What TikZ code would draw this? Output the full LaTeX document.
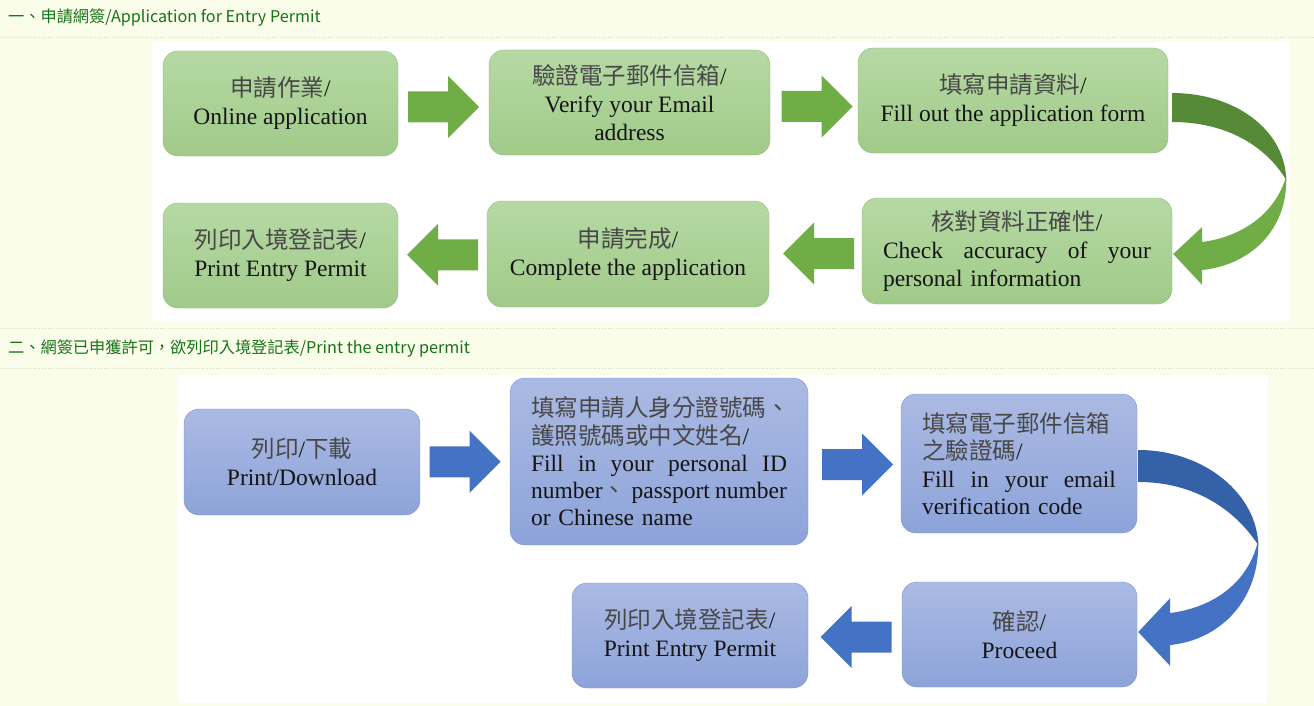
\documentclass[tikz,border=0pt]{standalone}
\usepackage{fontspec}
\setmainfont{Liberation Serif}
\newfontfamily\cjk{Noto Sans CJK TC}
\usepackage{xcolor}
\usepackage{tikz}
\usetikzlibrary{positioning,calc}

\definecolor{pagebg}{HTML}{F9FDEA}
\definecolor{seprule}{HTML}{D3DCC2}
\definecolor{headgreen}{HTML}{177317}
\definecolor{gboxtop}{HTML}{B6D9A4}
\definecolor{gboxbot}{HTML}{A1CA89}
\definecolor{gboxline}{HTML}{8FBE76}
\definecolor{garrowc}{HTML}{70AD47}
\definecolor{garrowd}{HTML}{578A37}
\definecolor{bboxtop}{HTML}{ABBAE3}
\definecolor{bboxbot}{HTML}{8DA3D9}
\definecolor{bboxline}{HTML}{7D95CE}
\definecolor{barrowc}{HTML}{4472C4}
\definecolor{barrowd}{HTML}{3461A8}
\definecolor{zhgray}{HTML}{474747}

\newcommand{\zh}[1]{{\cjk\color{zhgray}#1}}
\newcommand{\boxfont}{\fontsize{23.5}{28}\selectfont}

\begin{document}
\begin{tikzpicture}[x=1pt, y=-1pt,
    greenbox/.style={rectangle, rounded corners=15pt, draw=gboxline, top color=gboxtop, bottom color=gboxbot, text=black!92, font=\boxfont, inner sep=0pt, align=center},
    bluebox/.style={rectangle, rounded corners=15pt, draw=bboxline, top color=bboxtop, bottom color=bboxbot, text=black!92, font=\boxfont, inner sep=0pt, align=center},
    heading/.style={anchor=west, text=headgreen, font=\cjk\fontsize{16.2}{19}\selectfont, inner sep=0pt},
    seprule/.style={draw=seprule, dotted, line width=0.8pt},
    blockarrow/.pic={\fill (-35.5,-15.5) -- (4.5,-15.5) -- (4.5,-31) -- (35.5,0) -- (4.5,31) -- (4.5,15.5) -- (-35.5,15.5) -- cycle;}]

    \useasboundingbox (0,0) rectangle (1314,706);
    \fill[pagebg] (0,0) rectangle (1314,706);

    % Headings
    \node (head1) [heading] at (8,18) {一、申請網簽/Application for Entry Permit};
    \draw [seprule] (0,37) -- (1314,37);
    \fill[white] (152,42) rectangle (1290,322);
    \draw [seprule] (0,328) -- (1314,328);
    \node (head2) [heading] at (8,349) {二、網簽已申獲許可，欲列印入境登記表/Print the entry permit};
    \draw [seprule] (0,368) -- (1314,368);
    \fill[white] (178,375) rectangle (1267,703);

    % Application for entry permit
    \node (online) [greenbox, minimum width=235pt, minimum height=105pt] at (280.5,103.5) {\zh{申請作業}/\\Online application};
    \node (verify) [greenbox, minimum width=281pt, minimum height=105pt] at (629.5,102.5) {\zh{驗證電子郵件信箱}/\\Verify your Email\\address};
    \node (form) [greenbox, minimum width=310pt, minimum height=105pt] at (1013,100.5) {\zh{填寫申請資料}/\\Fill out the application form};
    \node (check) [greenbox, minimum width=310pt, minimum height=106pt, text width=268pt, align=left] at (1017,251)
        {\makebox[268pt][c]{\zh{核對資料正確性}/}\\\makebox[268pt]{Check\hfill accuracy\hfill of\hfill your}\\personal information};
    \node (done) [greenbox, minimum width=282pt, minimum height=106pt] at (628,254) {\zh{申請完成}/\\Complete the application};
    \node (print1) [greenbox, minimum width=235pt, minimum height=105pt] at (280.5,255.5) {\zh{列印入境登記表}/\\Print Entry Permit};

    \pic [fill=garrowc] at ($(online.east)!0.5!(verify.west)+(0,4)$) {blockarrow};
    \pic [fill=garrowc] at ($(verify.east)!0.5!(form.west)+(3,5)$) {blockarrow};
    \pic [fill=garrowc, rotate=180] at ($(done.east)!0.5!(check.west)+(3,1)$) {blockarrow};
    \pic [fill=garrowc, rotate=180] at ($(print1.east)!0.5!(done.west)$) {blockarrow};

    \begin{scope}[shift={(form.east)}]
        \fill[garrowc] (118,75.5) .. controls (120,129.5) and (82,164.5) .. (34,169.5) -- (34,184.5) -- (5,153.5)
            -- (34,126.5) -- (34,141.5) .. controls (72,136.5) and (107,114.5) .. (118,75.5) -- cycle;
        \fill[garrowd] (4,-7.5) .. controls (67,-7.5) and (117,29.5) .. (118,79.5)
            .. controls (97,44.5) and (57,21.5) .. (4,21.5) -- cycle;
    \end{scope}

    % Print the entry permit
    \node (download) [bluebox, minimum width=236pt, minimum height=106pt] at (302,462) {\zh{列印}/\zh{下載}\\Print/Download};
    \node (idno) [bluebox, minimum width=298pt, minimum height=167pt, text width=256pt, align=left, font=\fontsize{23.5}{27.3}\selectfont] at (659,461.5)
        {\zh{填寫申請人身分證號碼、}\\\zh{護照號碼或中文姓名}/\\\makebox[256pt]{Fill\hfill in\hfill your\hfill personal\hfill ID}\\\makebox[256pt]{number\zh{、}\hfill passport\hfill number}\\or Chinese name};
    \node (code) [bluebox, minimum width=236pt, minimum height=139pt, text width=194pt, align=left, font=\fontsize{23.5}{27.5}\selectfont] at (1019,463.5)
        {\zh{填寫電子郵件信箱}\\\zh{之驗證碼}/\\\makebox[194pt]{Fill\hfill in\hfill your\hfill email}\\verification code};
    \node (proceed) [bluebox, minimum width=235pt, minimum height=105pt] at (1019.5,634.5) {\zh{確認}/\\Proceed};
    \node (print2) [bluebox, minimum width=236pt, minimum height=105pt] at (690,635.5) {\zh{列印入境登記表}/\\Print Entry Permit};

    \pic [fill=barrowc] at ($(download.east)!0.5!(idno.west)$) {blockarrow};
    \pic [fill=barrowc] at ($(idno.east)!0.5!(code.west)+(3,2)$) {blockarrow};
    \pic [fill=barrowc, rotate=180] at ($(print2.east)!0.5!(proceed.west)+(1,2)$) {blockarrow};

    \begin{scope}[shift={(code.east)}]
        \fill[barrowc] (121,76.5) .. controls (123,136.5) and (83,176.5) .. (33,181.5) -- (33,202.5) -- (1,168.5)
            -- (33,134.5) -- (33,149.5) .. controls (73,144.5) and (111,121.5) .. (121,76.5) -- cycle;
        \fill[barrowd] (1,-13.5) .. controls (68,-13.5) and (120,31.5) .. (121,81.5)
            .. controls (98,46.5) and (58,18.5) .. (1,18.5) -- cycle;
    \end{scope}
\end{tikzpicture}
\end{document}
